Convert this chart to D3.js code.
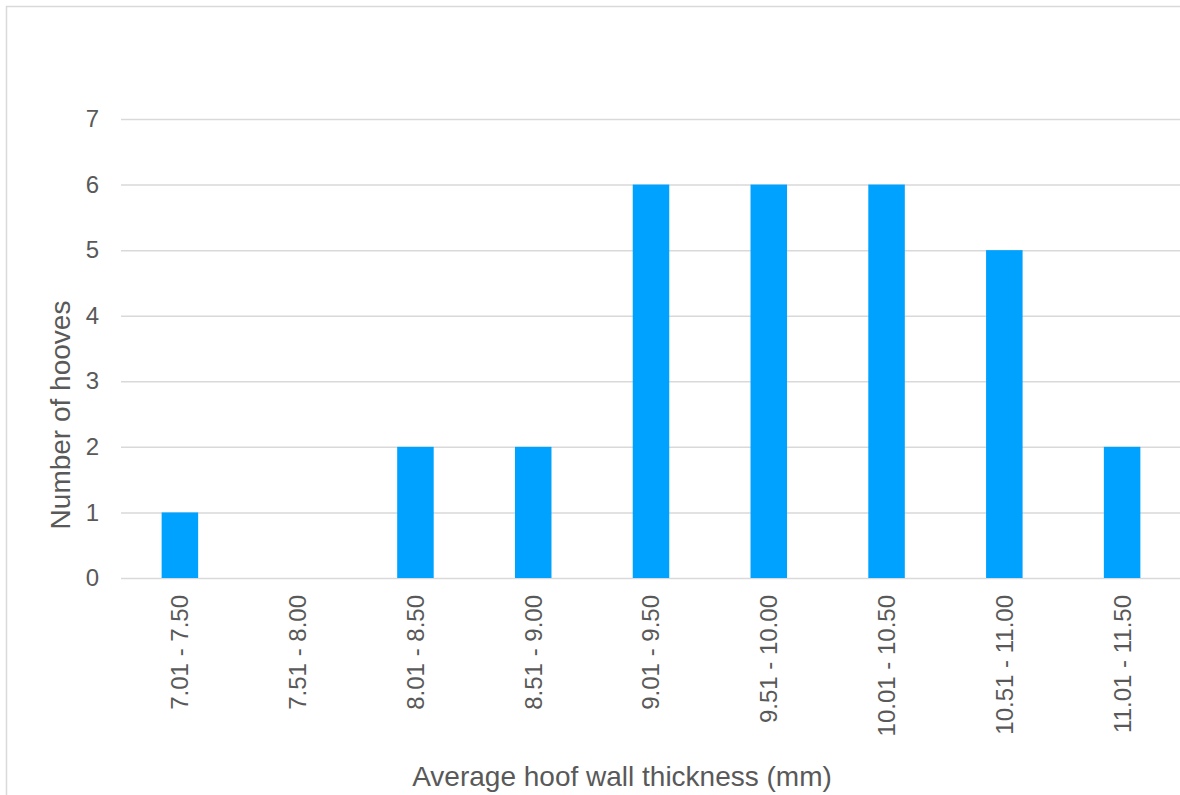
<!DOCTYPE html>
<html>
<head>
<meta charset="utf-8">
<script src="https://cdn.jsdelivr.net/npm/d3@7"></script>
<style>
  html, body { margin: 0; padding: 0; background: #fff; }
  svg { display: block; }
  text { font-family: "Liberation Sans", Arial, Helvetica, sans-serif; fill: #595959; }
</style>
</head>
<body>
<svg id="chart" width="1180" height="795"></svg>
<script>
// Hoof wall thickness bins and counts
const categories = ["7.01 - 7.50", "7.51 - 8.00", "8.01 - 8.50", "8.51 - 9.00", "9.01 - 9.50",
                    "9.51 - 10.00", "10.01 - 10.50", "10.51 - 11.00", "11.01 - 11.50"];
const counts = [1, 0, 2, 2, 6, 6, 6, 5, 2];
const yTicks = [0, 1, 2, 3, 4, 5, 6, 7];

const svg = d3.select("#chart");
const W = 1180, H = 795;
const plot = { left: 121, right: 1181, top: 119, bottom: 578 };

// outer frame
svg.append("rect")
  .attr("x", 6.5).attr("y", 6.5)
  .attr("width", W + 10).attr("height", H + 10)
  .attr("fill", "none").attr("stroke", "#d9d9d9").attr("stroke-width", 1.5);

const x = d3.scaleBand()
  .domain(categories)
  .range([plot.left, plot.right])
  .paddingInner(0.69)
  .paddingOuter(0.345);

const y = d3.scaleLinear().domain([0, 7]).range([plot.bottom, plot.top]);

// horizontal gridlines with value labels
const yAxis = d3.axisLeft(y)
  .tickValues(yTicks)
  .tickFormat(d3.format("d"))
  .tickSize(-(plot.right - plot.left))
  .tickPadding(22);

const gy = svg.append("g")
  .attr("transform", `translate(${plot.left},0)`)
  .call(yAxis);
gy.select(".domain").remove();
gy.selectAll(".tick line").attr("stroke", "#d9d9d9").attr("stroke-width", 1.5);
gy.selectAll(".tick text")
  .attr("font-size", 24)
  .attr("fill", "#595959")
  .style("font-family", "'Liberation Sans', Arial, sans-serif");

// bars
svg.append("g")
  .selectAll("rect")
  .data(counts.map((v, i) => ({ cat: categories[i], v })))
  .join("rect")
  .attr("x", d => x(d.cat))
  .attr("y", d => y(d.v))
  .attr("width", x.bandwidth())
  .attr("height", d => y(0) - y(d.v))
  .attr("fill", "#00a2ff");

// category labels, rotated
const xAxis = d3.axisBottom(x).tickSize(0).tickPadding(0);
const gx = svg.append("g")
  .attr("transform", `translate(0,${plot.bottom})`)
  .call(xAxis);
gx.select(".domain").remove();
gx.selectAll(".tick text")
  .attr("font-size", 24)
  .attr("fill", "#595959")
  .style("font-family", "'Liberation Sans', Arial, sans-serif")
  .attr("text-anchor", "end")
  .attr("dy", "0.35em")
  .attr("transform", "translate(0,17) rotate(-90)")
  .attr("x", 0).attr("y", 0);

// axis titles
svg.append("text")
  .attr("x", 622).attr("y", 786)
  .attr("text-anchor", "middle")
  .attr("font-size", 28)
  .text("Average hoof wall thickness (mm)");

svg.append("text")
  .attr("transform", "translate(70,415) rotate(-90)")
  .attr("text-anchor", "middle")
  .attr("font-size", 28)
  .text("Number of hooves");
</script>
</body>
</html>
